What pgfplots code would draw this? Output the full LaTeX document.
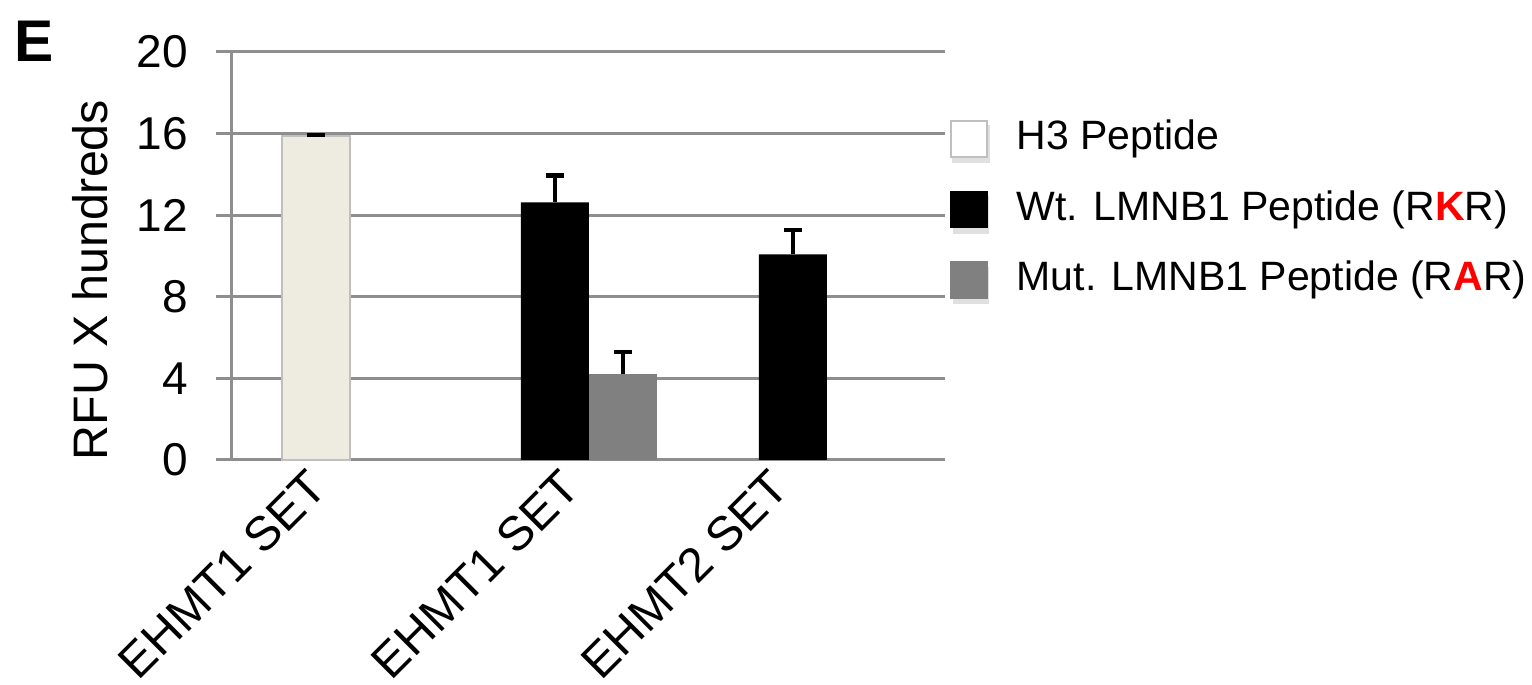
\documentclass[border=0pt]{standalone}
\usepackage{fontspec}
\setmainfont{Liberation Sans}
\usepackage{pgfplots}
\pgfplotsset{compat=1.18}
\definecolor{gridgray}{HTML}{8E8E8E}
\definecolor{beige}{HTML}{EEEBE0}
\definecolor{midgray}{HTML}{808080}
\begin{document}
\begin{tikzpicture}
\path[use as bounding box] (0,0) rectangle (383pt,171.25pt);
\begin{axis}[
  at={(57.75pt,56.25pt)}, anchor=south west,
  scale only axis, width=178.5pt, height=102pt,
  xmin=-0.5, xmax=2.5, ymin=0, ymax=20,
  ytick={0,4,8,12,16,20},
  xtick={-0.097,0.966,1.845},
  xticklabels={EHMT1 SET,EHMT1 SET,EHMT2 SET},
  /pgf/number format/assume math mode=true,
  axis x line*=bottom, axis y line*=left,
  axis line style={gridgray, line width=0.75pt},
  tick align=outside,
  major tick length=3.75pt,
  ytick style={gridgray, line width=0.75pt},
  xtick style={draw=none},
  ymajorgrids, grid style={gridgray, line width=0.75pt},
  y tick label style={font=\fontsize{11.5}{13}\selectfont, xshift=-3.5pt},
  x tick label style={font=\fontsize{12}{14}\selectfont, rotate=45, anchor=north east, xshift=1.16pt, yshift=8.65pt},
  ylabel={RFU X hundreds},
  ylabel style={font=\fontsize{12.1}{14}\selectfont, at={(axis description cs:-0.1975,0.441)}, anchor=center},
  ybar, bar width=0.2857, bar shift=0pt,
  clip=false,
  legend style={at={(axis description cs:1.007,0.835)}, anchor=north west,
    draw=none, fill=none, inner sep=0pt, outer sep=0pt,
    row sep=6.8pt, column sep=6.8pt,
    font=\fontsize{10.25}{12}\selectfont,
    nodes={inner sep=0pt, text height=7.5pt, text depth=2.2pt}},
  legend cell align=left,
  leg/.style={legend image code/.code={
     \fill[black!12] (0.6pt,-5.8pt) rectangle (9.4pt,3.2pt);
     \draw[##1] (0pt,-4.5pt) rectangle (9pt,4.5pt);}},
  error bars/y dir=plus, error bars/y explicit,
  error bars/error bar style={black, line width=0.8pt},
  error bars/error mark options={rotate=90, mark size=2.25pt, line width=1.2pt, black},
]
\addplot[fill=beige, draw=black!25, line width=0.4pt, forget plot]
  coordinates {(-0.143,15.88) +- (0,0.05)};
\addplot[fill=black, draw=none, forget plot]
  coordinates {(0.861,12.63) +- (0,1.31) (1.861,10.08) +- (0,1.19)};
\addplot[fill=midgray, draw=none, forget plot]
  coordinates {(1.147,4.22) +- (0,1.07)};
\addlegendimage{leg, fill=white, draw=black!25, line width=0.5pt}
\addlegendentry{H3 Peptide}
\addlegendimage{leg, fill=black, draw=black}
\addlegendentry{Wt. LMNB1 Peptide (R\textcolor{red}{\textbf{K}}R)}
\addlegendimage{leg, fill=midgray, draw=midgray}
\addlegendentry{Mut. LMNB1 Peptide (R\textcolor{red}{\textbf{A}}R)}
\node[font=\fontsize{14.7}{16}\bfseries, anchor=center] at (axis description cs:-0.276,1.027) {E};
\end{axis}
\end{tikzpicture}
\end{document}
